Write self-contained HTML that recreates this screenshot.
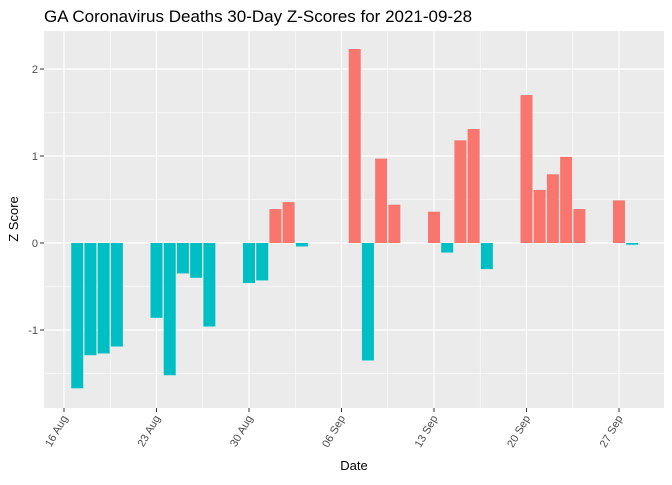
<!DOCTYPE html>
<html><head><meta charset="utf-8"><style>
body{margin:0;background:#fff;font-family:"Liberation Sans",sans-serif}
</style></head><body>
<svg id="chart" width="672" height="480" xmlns="http://www.w3.org/2000/svg">
<rect width="672" height="480" fill="#fff"/>
<text x="44" y="22" font-size="17" fill="#000">GA Coronavirus Deaths 30-Day Z-Scores for 2021-09-28</text>
<rect x="44" y="31" width="620" height="377" fill="#EBEBEB"/>
<g id="grid"></g><g id="bars"></g><g id="axes"></g>
<text x="354" y="470" font-size="13" text-anchor="middle">Date</text>
<text transform="translate(18,219) rotate(-90)" font-size="13" text-anchor="middle">Z Score</text>
</svg>
<script>
const zValues=[-1.67,-1.29,-1.27,-1.19,-0.86,-1.52,-0.35,-0.40,-0.96,-0.46,-0.43,0.39,0.47,-0.04,2.23,-1.35,0.97,0.44,0.36,-0.11,1.18,1.31,-0.30,1.70,0.61,0.79,0.99,0.39,0.49,-0.02];
const dates=[1,2,3,4,7,8,9,10,11,14,15,16,17,18,22,23,24,25,28,29,30,31,32,35,36,37,38,39,42,43];
const yTicks=[-1,0,1,2];
const xTickDays=[0,7,14,21,28,35,42];
const xTickLabels=["16 Aug","23 Aug","30 Aug","06 Sep","13 Sep","20 Sep","27 Sep"];
const NS="http://www.w3.org/2000/svg";
const X=d=>64+d*13.214, Y=v=>243-v*87;
const L=44,R=664,T=31,B=408;
function mk(tag,attrs,parent){const e=document.createElementNS(NS,tag);for(const k in attrs)e.setAttribute(k,attrs[k]);document.getElementById(parent).appendChild(e);return e;}
for(let v=-1.5;v<=2;v+=1){const l=mk('line',{x1:L,x2:R,y1:Y(v),y2:Y(v),stroke:'#fff','stroke-width':0.6},'grid');}
for(let i=0;i<xTickDays.length-1;i++){const xm=X((xTickDays[i]+xTickDays[i+1])/2);const l=mk('line',{x1:xm,x2:xm,y1:T,y2:B,stroke:'#fff','stroke-width':0.6},'grid');}
yTicks.forEach(v=>{const l=mk('line',{x1:L,x2:R,y1:Y(v),y2:Y(v),stroke:'#fff','stroke-width':1.2},'grid');
const t=mk('text',{x:38,y:Y(v)+4,'font-size':11,'text-anchor':'end',fill:'#4D4D4D'},'axes');t.textContent=v;
const k=mk('line',{x1:40,x2:44,y1:Y(v),y2:Y(v),stroke:'#333'},'axes');});
xTickDays.forEach((d,i)=>{const x=X(d);const l=mk('line',{x1:x,x2:x,y1:T,y2:B,stroke:'#fff','stroke-width':1.2},'grid');
const k=mk('line',{x1:x,x2:x,y1:B,y2:B+4,stroke:'#333'},'axes');
const t=mk('text',{transform:`translate(${x+4},${B+10}) rotate(-60)`,'font-size':11,'text-anchor':'end',fill:'#4D4D4D'},'axes');t.textContent=xTickLabels[i];});
dates.forEach((d,i)=>{const v=zValues[i];const w=12;const y0=Y(0),y1=Y(v);
const r=mk('rect',{x:X(d)-w/2,y:Math.min(y0,y1),width:w,height:Math.max(Math.abs(y1-y0),0.5),fill:v>=0?'#F8766D':'#00BFC4'},'bars');});
</script>
</body></html>
